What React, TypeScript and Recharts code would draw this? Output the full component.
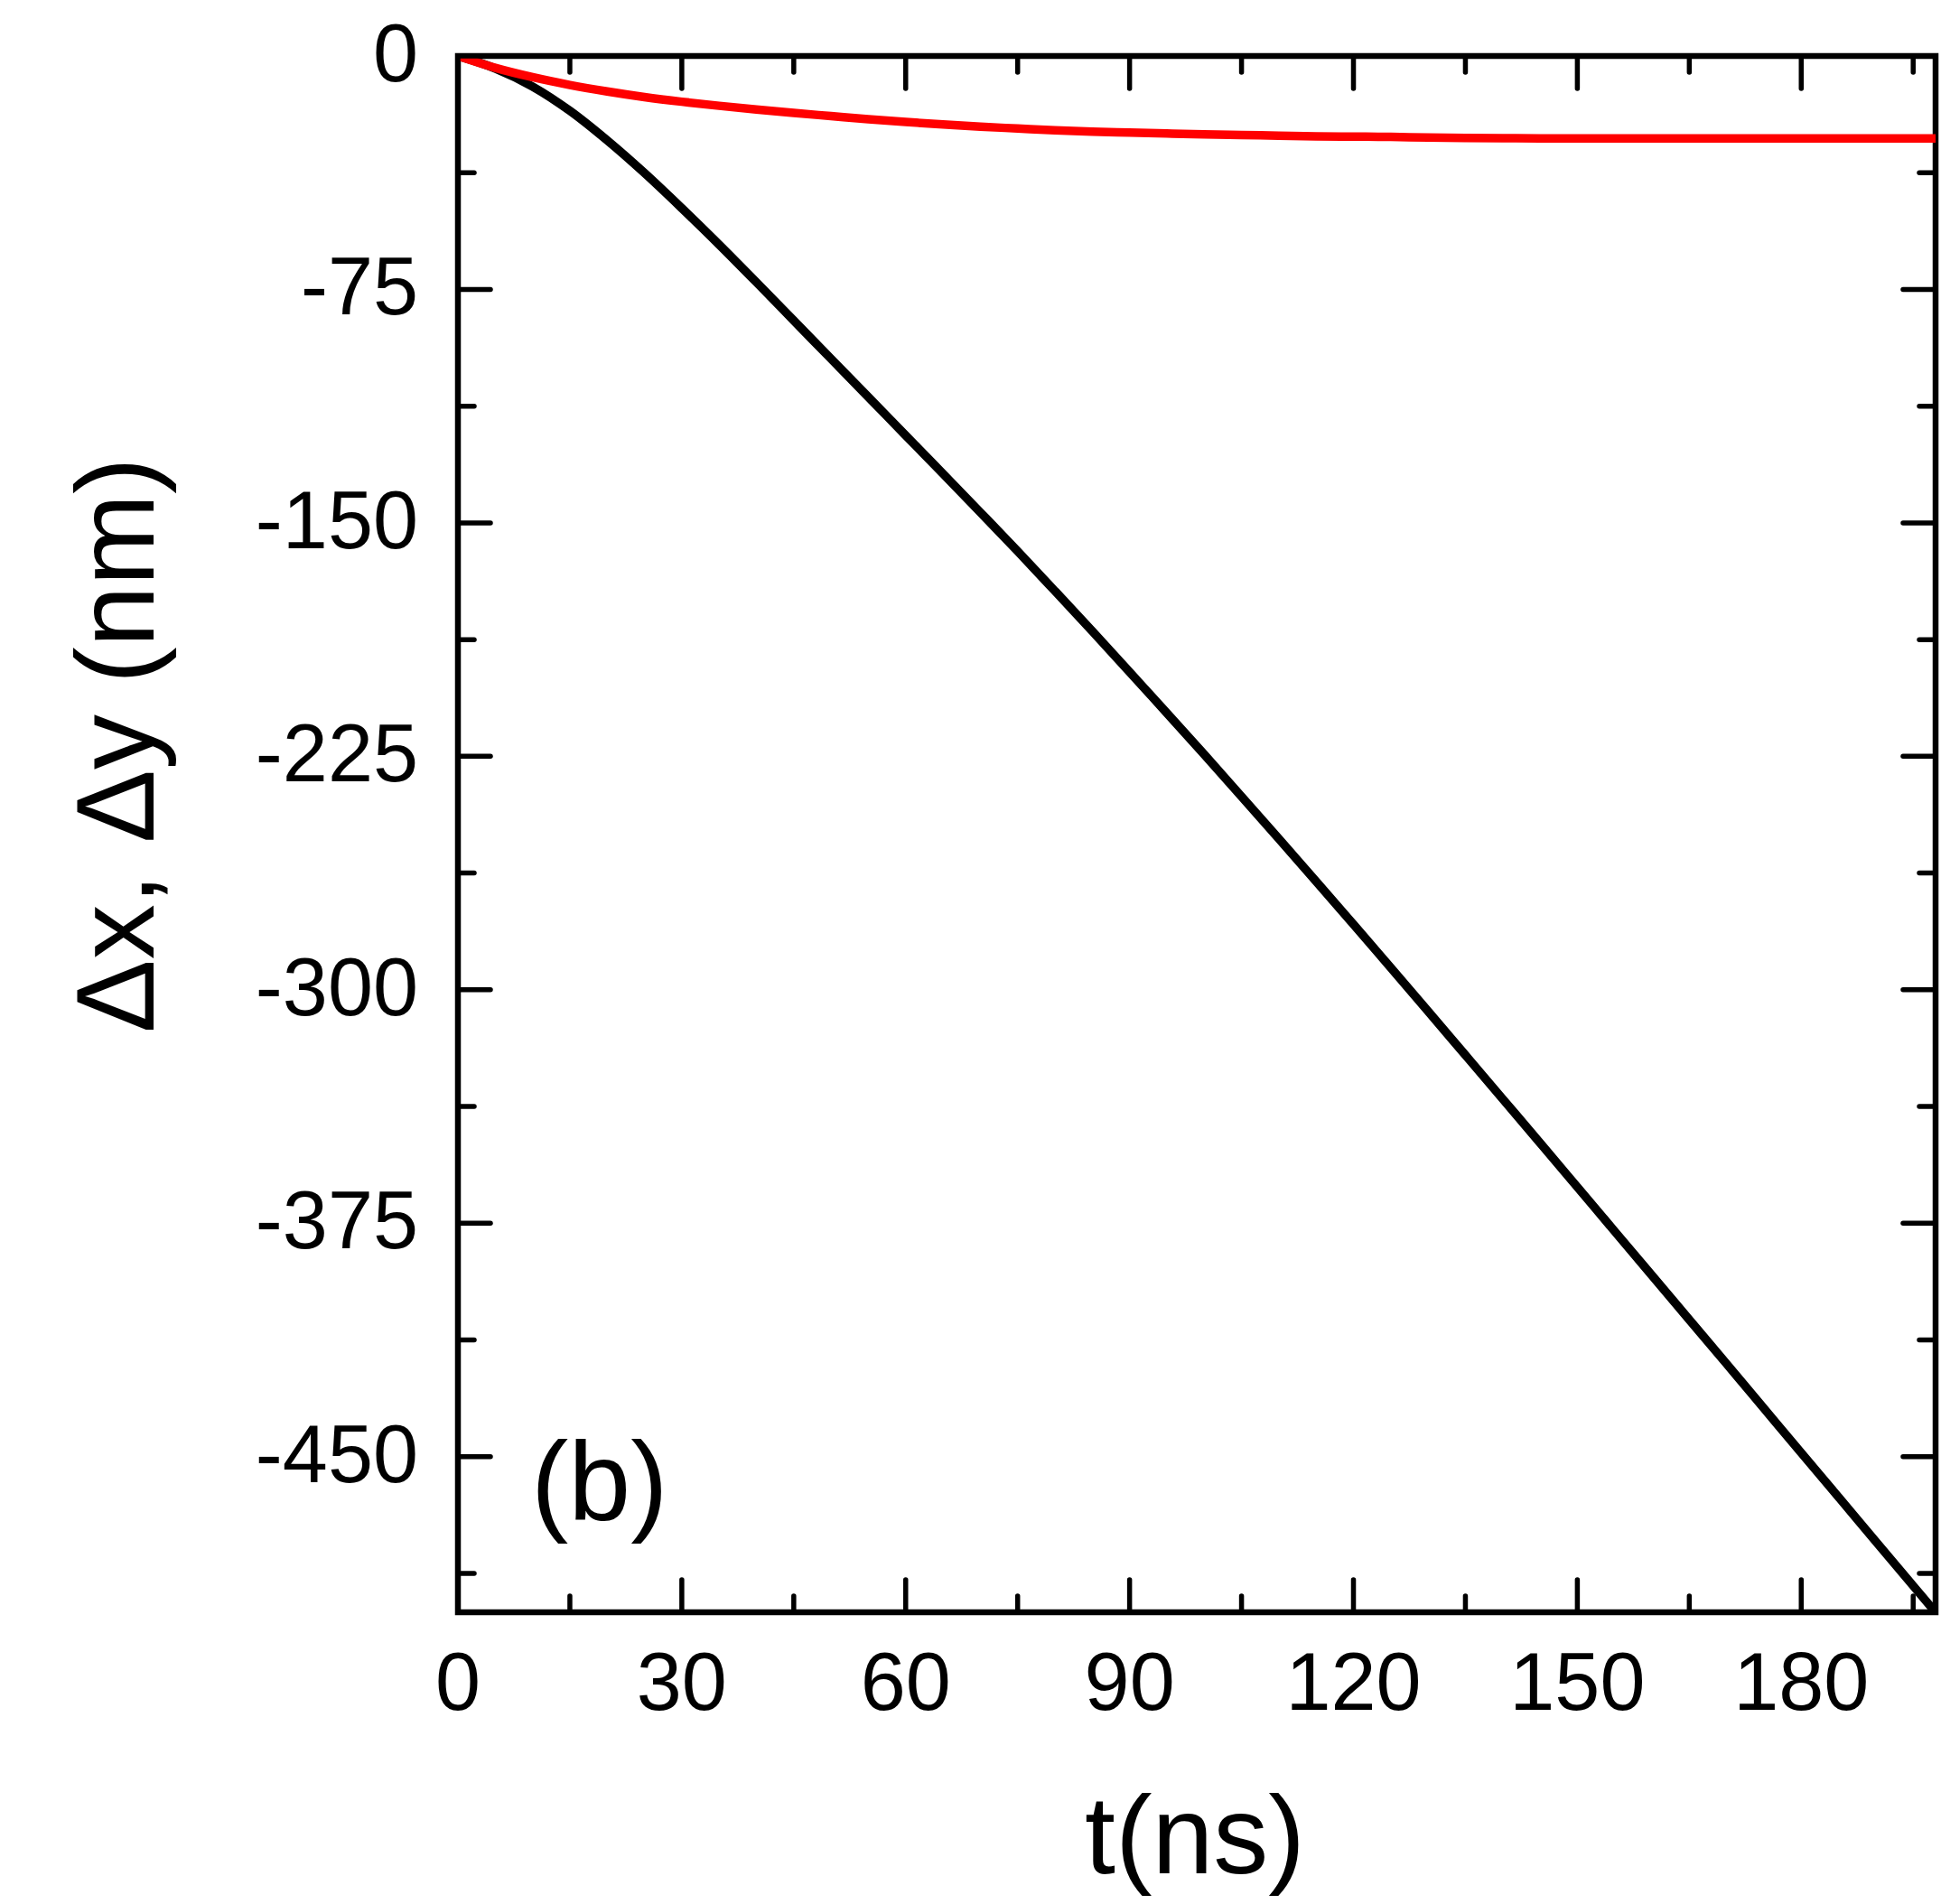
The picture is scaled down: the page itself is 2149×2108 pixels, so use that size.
import React from 'react';
import { LineChart, Line, XAxis, YAxis, ReferenceArea } from 'recharts';

const FONT = '"Liberation Sans", Arial, sans-serif';

// time (ns)
const T = [
  0, 5, 10, 15, 20, 25, 30, 35, 40, 45, 50, 55, 60, 65, 70, 75, 80, 85, 90, 95,
  100, 105, 110, 115, 120, 125, 130, 135, 140, 145, 150, 155, 160, 165, 170, 175,
  180, 185, 190, 195, 198,
];
// Δx (nm), black curve
const DX = [
  0, -4, -9.8, -17.6, -27.1, -37.6, -48.9, -60.6, -72.7, -85, -97.3, -109.6, -121.9,
  -134.2, -146.6, -159.1, -171.9, -184.8, -197.9, -211.1, -224.4, -237.9, -251.5,
  -265.2, -279, -292.9, -306.9, -321, -335.1, -349.2, -363.4, -377.6, -391.8, -406,
  -420.2, -434.5, -448.8, -463, -477.3, -491.5, -500,
];
// Δy (nm), red curve
const DY = [
  0, -3.8, -6.8, -9.3, -11.4, -13.2, -14.7, -16, -17.2, -18.3, -19.3, -20.3, -21.2,
  -22, -22.7, -23.3, -23.9, -24.3, -24.6, -24.9, -25.2, -25.4, -25.6, -25.8, -25.9,
  -26, -26.2, -26.3, -26.4, -26.5, -26.5, -26.5, -26.5, -26.5, -26.5, -26.5, -26.5,
  -26.5, -26.5, -26.5, -26.5,
];

const X_TICKS = [0, 15, 30, 45, 60, 75, 90, 105, 120, 135, 150, 165, 180, 195];
const Y_TICKS = [0, -37.5, -75, -112.5, -150, -187.5, -225, -262.5, -300, -337.5, -375, -412.5, -450, -487.5];
const X_STEP = 30;
const Y_STEP = 75;

const MAJOR = 36;
const MINOR = 18;
const TICK_W = 5.5;

const data = T.map((t, i) => ({ t, dx: DX[i], dy: DY[i] }));

const isMajor = (v: number, step: number) => Math.abs(v % step) < 1e-6;

const BottomTick = (props: any) => {
  const { x, y, payload } = props;
  const major = isMajor(payload.value, X_STEP);
  return (
    <g>
      <line x1={x} y1={y} x2={x} y2={y - (major ? MAJOR : MINOR)} stroke="#000" strokeWidth={TICK_W} strokeLinecap="round" />
      {major && (
        <text x={x} y={y + 108} textAnchor="middle" fontSize={90} fontFamily={FONT} fill="#000">
          {payload.value}
        </text>
      )}
    </g>
  );
};

const TopTick = (props: any) => {
  const { x, y, payload } = props;
  const major = isMajor(payload.value, X_STEP);
  return <line x1={x} y1={y} x2={x} y2={y + (major ? MAJOR : MINOR)} stroke="#000" strokeWidth={TICK_W} strokeLinecap="round" />;
};

const LeftTick = (props: any) => {
  const { x, y, payload } = props;
  const major = isMajor(payload.value, Y_STEP);
  return (
    <g>
      <line x1={x} y1={y} x2={x + (major ? MAJOR : MINOR)} y2={y} stroke="#000" strokeWidth={TICK_W} strokeLinecap="round" />
      {major && (
        <text x={x - 44} y={y + 28} textAnchor="end" fontSize={90} fontFamily={FONT} fill="#000">
          {payload.value}
        </text>
      )}
    </g>
  );
};

const RightTick = (props: any) => {
  const { x, y, payload } = props;
  const major = isMajor(payload.value, Y_STEP);
  return <line x1={x} y1={y} x2={x - (major ? MAJOR : MINOR)} y2={y} stroke="#000" strokeWidth={TICK_W} strokeLinecap="round" />;
};

export default function App() {
  return (
    <div style={{ position: 'absolute', left: 0, top: 0, width: 2149, height: 2108, background: '#fff' }}>
      <LineChart width={2149} height={2108} data={data} margin={{ top: 61, right: 5, bottom: 0, left: 0 }}>
        <XAxis
          dataKey="t"
          type="number"
          domain={[0, 198]}
          ticks={X_TICKS}
          interval={0}
          height={323}
          tickSize={0}
          tickMargin={0}
          tickLine={false}
          axisLine={false}
          tick={<BottomTick />}
          allowDataOverflow
        />
        <XAxis
          xAxisId="top"
          orientation="top"
          dataKey="t"
          type="number"
          domain={[0, 198]}
          ticks={X_TICKS}
          interval={0}
          height={1}
          tickSize={0}
          tickMargin={0}
          tickLine={false}
          axisLine={false}
          tick={<TopTick />}
          allowDataOverflow
        />
        <YAxis
          type="number"
          domain={[-500, 0]}
          ticks={Y_TICKS}
          interval={0}
          width={507}
          tickSize={0}
          tickMargin={0}
          tickLine={false}
          axisLine={false}
          tick={<LeftTick />}
          allowDataOverflow
        />
        <YAxis
          yAxisId="right"
          orientation="right"
          type="number"
          domain={[-500, 0]}
          ticks={Y_TICKS}
          interval={0}
          width={1}
          tickSize={0}
          tickMargin={0}
          tickLine={false}
          axisLine={false}
          tick={<RightTick />}
          allowDataOverflow
        />
        <ReferenceArea x1={0} x2={198} y1={-500} y2={0} fill="none" stroke="#000" strokeWidth={6.5} strokeLinejoin="miter" />
        <Line dataKey="dx" type="monotone" stroke="#000" strokeWidth={9.5} dot={false} isAnimationActive={false} />
        <Line dataKey="dy" type="monotone" stroke="#ff0000" strokeWidth={9.5} dot={false} isAnimationActive={false} />
      </LineChart>
      <svg width={2149} height={2108} style={{ position: 'absolute', left: 0, top: 0, pointerEvents: 'none' }}>
        <text x={170} y={825} transform="rotate(-90 170 825)" textAnchor="middle" fontSize={122} fontFamily={FONT} fill="#000">
          Δx, Δy (nm)
        </text>
        <text x={1323} y={2074} textAnchor="middle" fontSize={122} fontFamily={FONT} fill="#000">
          t(ns)
        </text>
        <text x={588} y={1683} fontSize={124} fontFamily={FONT} fill="#000">
          (b)
        </text>
      </svg>
    </div>
  );
}
